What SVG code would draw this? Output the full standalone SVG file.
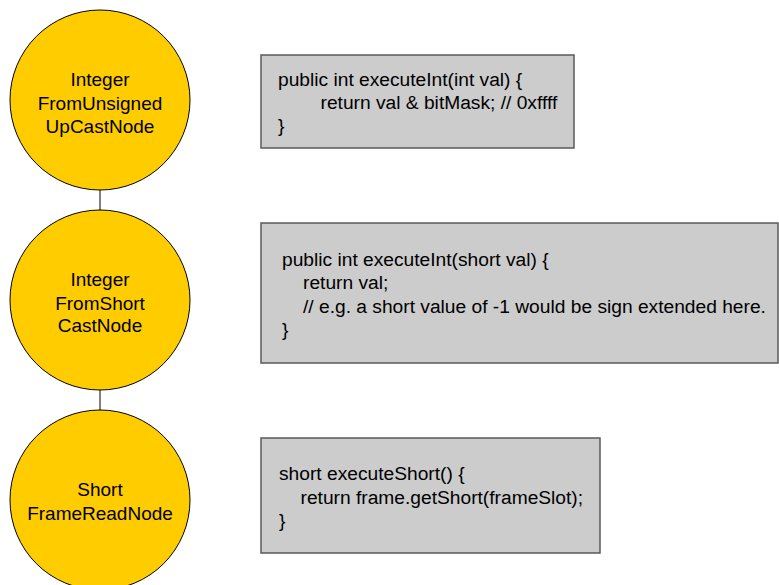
<svg xmlns="http://www.w3.org/2000/svg" width="779" height="585" viewBox="0 0 779 585">
  <style>
    .node circle { fill: #ffcc00; stroke: #000000; stroke-width: 1; }
    .node text { font-family: "Liberation Sans", Arial, sans-serif; font-size: 19px; fill: #000000; text-anchor: middle; }
    .code rect { fill: #cccccc; stroke: #595959; stroke-width: 1.5; }
    .code text { font-family: "Liberation Sans", Arial, sans-serif; font-size: 19.2px; fill: #000000; }
    .edge { stroke: #000000; stroke-width: 1; fill: none; }
  </style>
  <rect width="779" height="585" fill="#ffffff"/>

  <!-- links between the cast chain nodes -->
  <g id="connectors">
    <line class="edge" x1="100" y1="190" x2="100" y2="210"/>
    <line class="edge" x1="100" y1="390" x2="100" y2="410"/>
  </g>

  <g id="node-upcast" class="node">
    <circle cx="100" cy="100" r="90"/>
    <text x="100" y="86">Integer</text>
    <text x="100" y="109.5">FromUnsigned</text>
    <text x="100" y="133">UpCastNode</text>
  </g>

  <g id="node-shortcast" class="node">
    <circle cx="100" cy="300" r="90"/>
    <text x="100" y="286">Integer</text>
    <text x="100" y="309.5">FromShort</text>
    <text x="100" y="332">CastNode</text>
  </g>

  <g id="node-frameread" class="node">
    <circle cx="100" cy="500" r="90"/>
    <text x="100" y="496">Short</text>
    <text x="100" y="519.5">FrameReadNode</text>
  </g>

  <!-- code snippets beside each node -->
  <g id="code-upcast" class="code">
    <rect x="261" y="55" width="313" height="93"/>
    <text x="278" y="86">public int executeInt(int val) {</text>
    <text x="320.5" y="109">return val &amp; bitMask; // 0xffff</text>
    <text x="278" y="132">}</text>
  </g>

  <g id="code-shortcast" class="code">
    <rect x="261" y="223" width="517" height="140"/>
    <text x="282" y="265.5">public int executeInt(short val) {</text>
    <text x="303" y="289">return val;</text>
    <text x="303" y="312.5">// e.g. a short value of -1 would be sign extended here.</text>
    <text x="282" y="336">}</text>
  </g>

  <g id="code-frameread" class="code">
    <rect x="261" y="438" width="339" height="115"/>
    <text x="279" y="480">short executeShort() {</text>
    <text x="300.5" y="503.5">return frame.getShort(frameSlot);</text>
    <text x="279" y="527">}</text>
  </g>
</svg>
